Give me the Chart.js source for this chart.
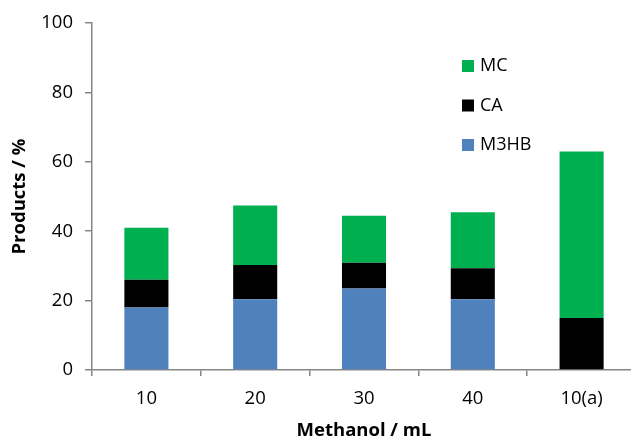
<!DOCTYPE html>
<html lang="en">
<head>
    <meta charset="UTF-8">
    <script src="https://cdn.jsdelivr.net/npm/chart.js"></script>
    <title>products</title>
    <style>
        body {
            margin: 0;
            background: #ffffff;
            overflow: hidden;
        }
        #wrap {
            width: 631px;
            height: 442px;
            overflow: hidden;
        }
    </style>
</head>
<body>
    <div id="wrap">
        <canvas id="productsChart" width="636" height="442"></canvas>
    </div>

    <script>
        const categories = ['10', '20', '30', '40', '10(a)'];
        const m3hb = [18, 20.4, 23.5, 20.4, 0];
        const ca = [8, 9.9, 7.4, 8.9, 15];
        const mc = [15, 17.1, 13.6, 16.2, 48];
        const yTicks = [0, 20, 40, 60, 80, 100];

        const FONT = '"Open Sans", Arial, sans-serif';
        const axisGrey = '#868686';

        // legend drawn by hand: vertical, top series first
        const sideLegend = {
            id: 'sideLegend',
            afterDraw(chart) {
                const ctx = chart.ctx;
                const sets = chart.data.datasets.slice().reverse();
                ctx.save();
                ctx.font = '18px ' + FONT;
                ctx.textBaseline = 'middle';
                sets.forEach((ds, i) => {
                    const y = 66 + i * 39.5;
                    ctx.fillStyle = ds.backgroundColor;
                    ctx.fillRect(462, y - 6, 12, 12);
                    ctx.fillStyle = '#000';
                    ctx.fillText(ds.label, 480, y);
                });
                ctx.restore();
            }
        };

        const ctx = document.getElementById('productsChart').getContext('2d');
        new Chart(ctx, {
            type: 'bar',
            data: {
                labels: categories,
                datasets: [
                    { label: 'M3HB', data: m3hb, backgroundColor: '#4F81BD' },
                    { label: 'CA', data: ca, backgroundColor: '#000000' },
                    { label: 'MC', data: mc, backgroundColor: '#00B050' }
                ]
            },
            options: {
                responsive: false,
                animation: false,
                layout: { padding: { top: 23, right: 0, left: 0, bottom: 0 } },
                datasets: {
                    bar: { categoryPercentage: 1, barPercentage: 0.405 }
                },
                plugins: {
                    legend: { display: false },
                    tooltip: { enabled: false }
                },
                scales: {
                    x: {
                        stacked: true,
                        afterFit: s => { s.height = 72; },
                        border: { color: axisGrey, width: 1.5 },
                        grid: { drawOnChartArea: false, color: axisGrey, tickLength: 6, lineWidth: 1.5 },
                        ticks: { color: '#000', padding: 12, font: { family: FONT, size: 18.5 } },
                        title: {
                            display: true,
                            text: 'Methanol / mL',
                            color: '#000',
                            padding: { top: 0, bottom: 0 },
                            font: { family: FONT, size: 18.5, weight: 'bold' }
                        }
                    },
                    y: {
                        stacked: true,
                        min: 0,
                        max: 100,
                        afterFit: s => { s.width = 92; },
                        afterBuildTicks: s => { s.ticks = yTicks.map(v => ({ value: v })); },
                        border: { color: axisGrey, width: 1.5 },
                        grid: { drawOnChartArea: false, color: axisGrey, tickLength: 7, lineWidth: 1.5 },
                        ticks: { color: '#000', padding: 12, font: { family: FONT, size: 18.5 } },
                        title: {
                            display: true,
                            text: 'Products / %',
                            color: '#000',
                            padding: { top: 9, bottom: 0 },
                            font: { family: FONT, size: 18.5, weight: 'bold' }
                        }
                    }
                }
            },
            plugins: [sideLegend]
        });
    </script>
</body>
</html>
